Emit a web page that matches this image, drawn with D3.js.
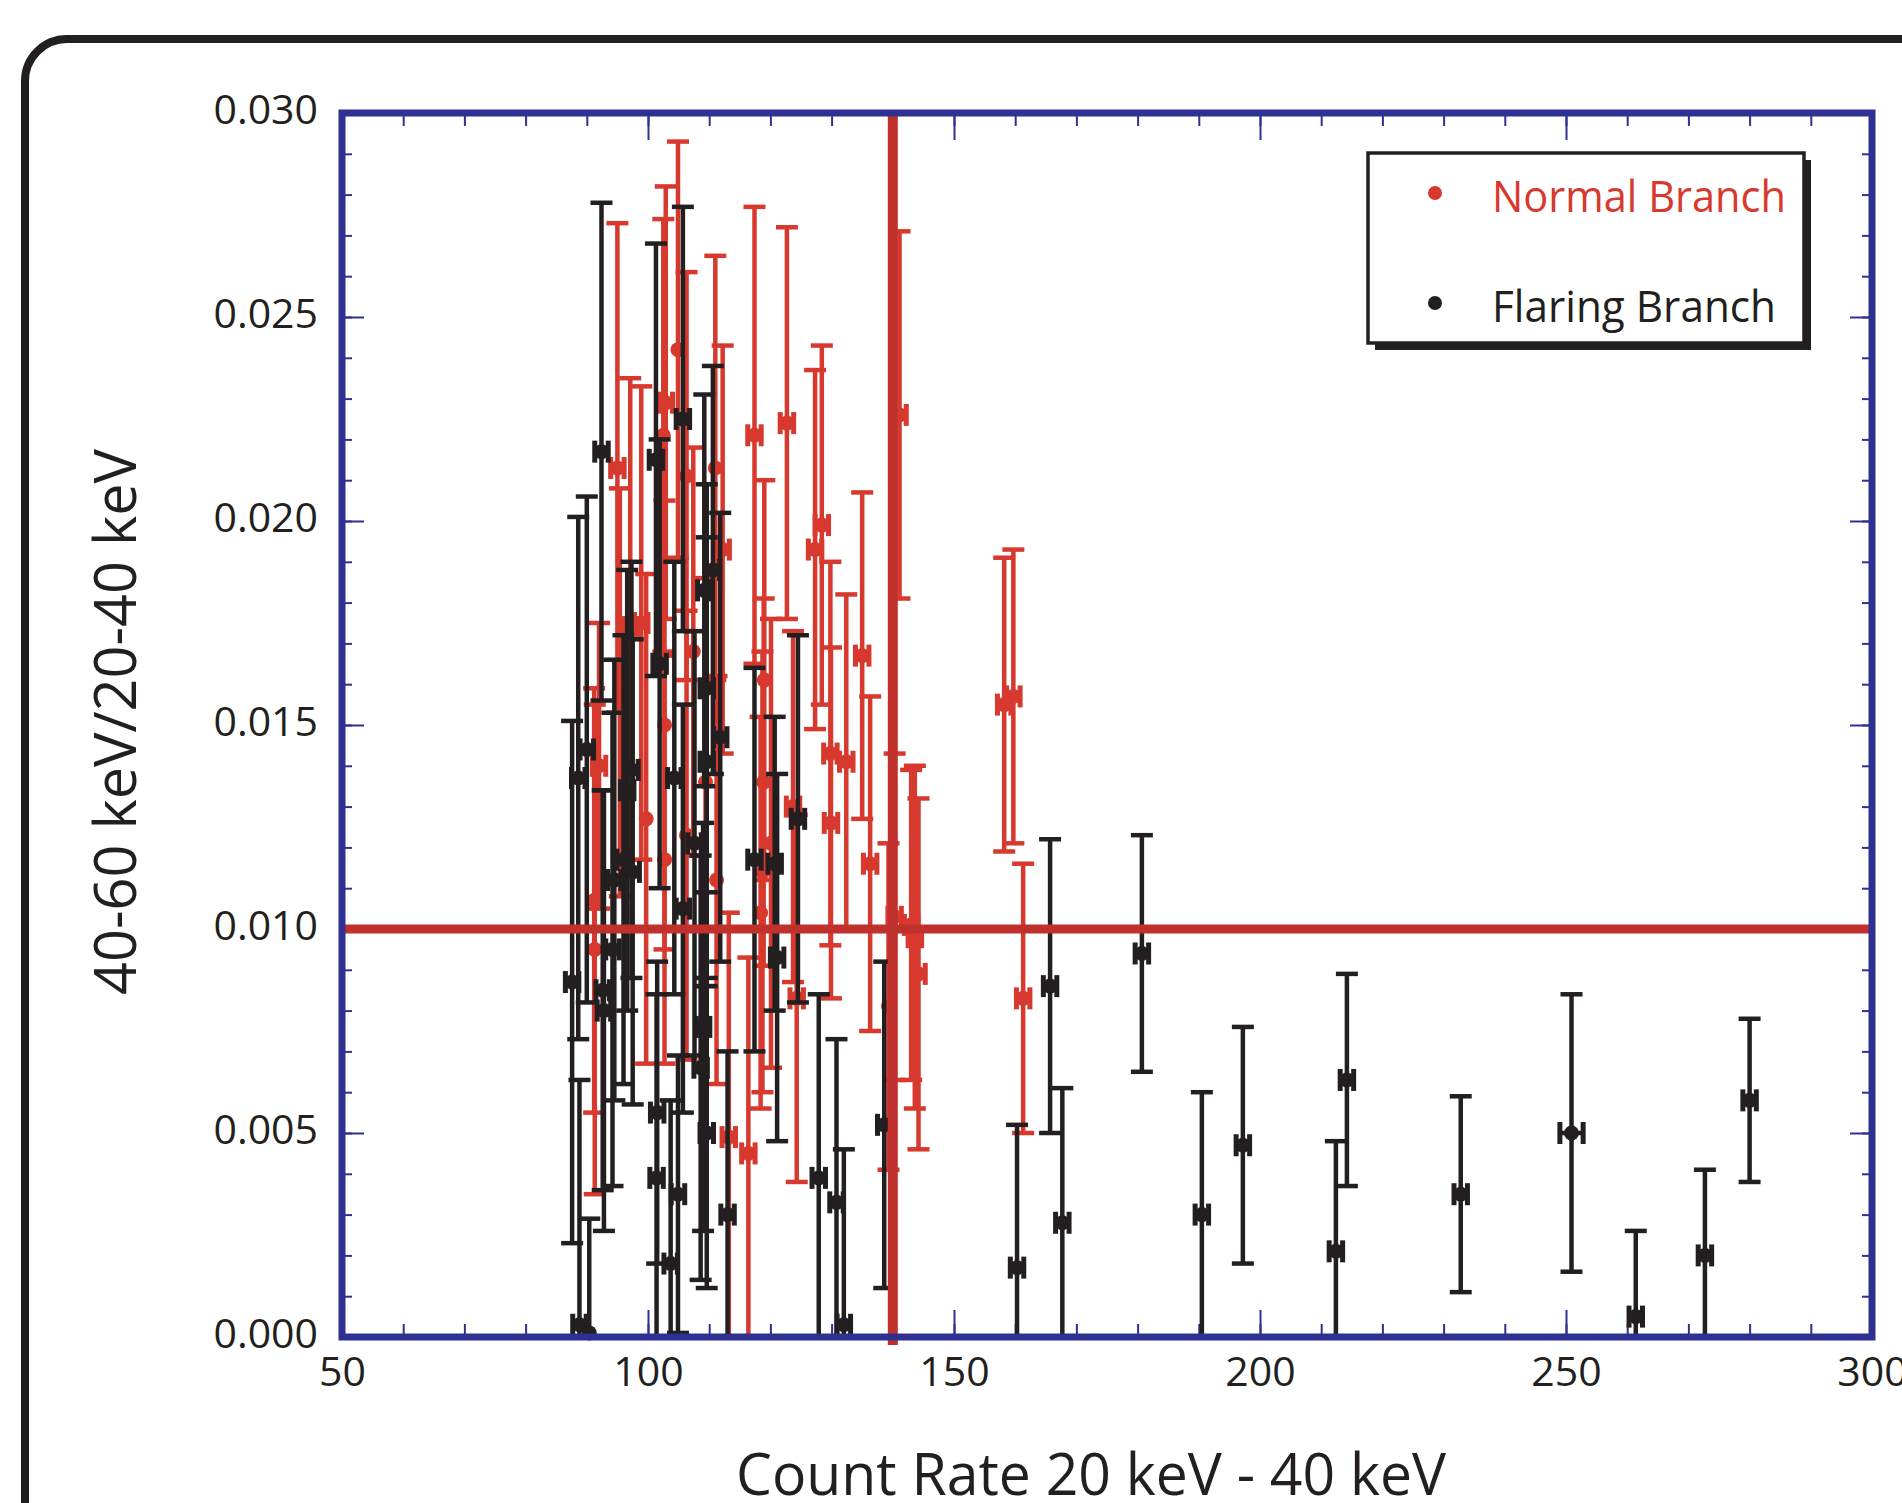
<!DOCTYPE html>
<html>
<head>
<meta charset="utf-8">
<title>40-60 keV / 20-40 keV vs count rate</title>
<script src="https://d3js.org/d3.v7.min.js"></script>
<style>
  body { margin: 0; background: #fff; }
  text { font-family: "Open Sans", "Noto Sans", sans-serif; }
</style>
</head>
<body>
<svg width="1902" height="1503"></svg>
<script>
// Normal Branch (red)
const normalX    = [91.2, 91.3, 92.0, 95.0, 95.4, 97.1, 98.9, 99.7, 102.9, 102.5, 102.7, 102.7, 104.9, 106.3, 106.3, 107.4,
                    109.4, 111.0, 111.2, 112.2, 113.2, 116.4, 117.4, 119.0, 118.9, 118.7, 120.1, 118.4, 122.7, 123.7, 124.3,
                    127.3, 128.4, 129.8, 129.9, 132.4, 135.0, 136.3, 140.3, 139.3, 141.1, 143.0, 143.6, 144.2, 158.2, 159.7, 161.3];
const normalY    = [0.0107, 0.0095, 0.0140, 0.0213, 0.0158, 0.0174, 0.0175, 0.0127, 0.0229, 0.0221, 0.0150, 0.0117, 0.0242, 0.0123, 0.0211, 0.0168,
                    0.0136, 0.0213, 0.0112, 0.0193, 0.0049, 0.0045, 0.0221, 0.0161, 0.0136, 0.0114, 0.0121, 0.0104, 0.0224, 0.0130, 0.0083,
                    0.0193, 0.0199, 0.0143, 0.0126, 0.0141, 0.0167, 0.0116, 0.0103, 0.0081, 0.0226, 0.0101, 0.0098, 0.0089, 0.0155, 0.0157, 0.0083];
const normalYErr = [0.0052, 0.0060, 0.0035, 0.0060, 0.0050, 0.0061, 0.0058, 0.0060, 0.0053, 0.0053, 0.0055, 0.0050, 0.0051, 0.0055, 0.0050, 0.0050,
                    0.0050, 0.0052, 0.0050, 0.0050, 0.0055, 0.0048, 0.0056, 0.0049, 0.0045, 0.0054, 0.0055, 0.0048, 0.0048, 0.0043, 0.0045,
                    0.0044, 0.0044, 0.0047, 0.0043, 0.0041, 0.0040, 0.0041, 0.0040, 0.0040, 0.0045, 0.0038, 0.0042, 0.0043, 0.0036, 0.0036, 0.0033];
const normalXErr = [0, 0, 1.1, 1.1, 0, 1.1, 1.1, 0, 1.1, 0, 0, 0, 0, 0, 0, 0,
                    0, 0, 0, 1.1, 1.1, 1.1, 1.1, 0, 0, 0, 0, 0, 1.1, 1.1, 1.1,
                    1.1, 1.1, 1.1, 1.1, 1.1, 1.1, 1.1, 1.1, 0, 1.1, 1.1, 1.1, 1.1, 1.1, 1.1, 1.1];

// Flaring Branch (black)
const flaringX    = [87.6, 88.6, 88.8, 90.0, 90.4, 92.4, 92.6, 92.8, 94.2, 94.5, 96.0, 96.6, 97.3, 97.5, 101.3, 101.9, 101.5, 101.4,
                     103.7, 104.3, 104.9, 105.7, 105.7, 107.6, 108.6, 109.0, 109.2, 109.6, 109.6, 109.6, 110.6, 111.8, 113.0,
                     117.4, 120.7, 121.1, 124.5, 127.9, 130.8, 132.0, 138.6,
                     160.3, 165.7, 167.7, 180.7, 190.5, 197.2, 212.4, 214.2, 232.8, 250.9, 261.4, 272.7, 280.0];
const flaringY    = [0.0087, 0.0137, 0.0003, 0.0144, 0.0001, 0.0217, 0.0085, 0.0080, 0.0095, 0.0112, 0.0117, 0.0134, 0.0139, 0.0114, 0.0215, 0.0165, 0.0055, 0.0039,
                     0.0018, 0.0137, 0.0035, 0.0225, 0.0105, 0.0121, 0.0066, 0.0076, 0.0183, 0.0050, 0.0159, 0.0141, 0.0188, 0.0147, 0.0030,
                     0.0117, 0.0116, 0.0093, 0.0127, 0.0039, 0.0033, 0.0003, 0.0052,
                     0.0017, 0.0086, 0.0028, 0.0094, 0.0030, 0.0047, 0.0021, 0.0063, 0.0035, 0.0050, 0.0005, 0.0020, 0.0058];
const flaringYErr = [0.0064, 0.0064, 0.0060, 0.0062, 0.0028, 0.0061, 0.0049, 0.0054, 0.0058, 0.0054, 0.0055, 0.0054, 0.0051, 0.0057, 0.0053, 0.0055, 0.0037, 0.0045,
                     0.0040, 0.0053, 0.0034, 0.0052, 0.0050, 0.0052, 0.0052, 0.0050, 0.0048, 0.0038, 0.0050, 0.0055, 0.0050, 0.0055, 0.0040,
                     0.0047, 0.0036, 0.0045, 0.0045, 0.0045, 0.0040, 0.0043, 0.0040,
                     0.0035, 0.0036, 0.0033, 0.0029, 0.0030, 0.0029, 0.0027, 0.0026, 0.0024, 0.0034, 0.0021, 0.0021, 0.0020];
const flaringXErr = [1.1, 1.1, 1.1, 1.1, 0, 1.1, 1.1, 1.1, 1.1, 1.1, 1.1, 1.1, 1.1, 1.1, 1.1, 1.1, 1.1, 1.1,
                     1.1, 1.1, 1.1, 1.1, 1.1, 1.1, 1.1, 1.1, 1.1, 1.1, 1.1, 1.1, 1.1, 1.1, 1.1,
                     1.1, 1.1, 1.1, 1.1, 1.1, 1.1, 1.1, 1.1,
                     1.1, 1.1, 1.1, 1.1, 1.1, 1.1, 1.1, 1.1, 1.1, 1.9, 1.1, 1.1, 1.1];

// axes and reference lines
const xDomain = [50, 300];
const yDomain = [0, 0.030];
const xMajorTicks = [50, 100, 150, 200, 250, 300];
const yMajorTicks = [0, 0.005, 0.010, 0.015, 0.020, 0.025, 0.030];
const refX = 140;
const refY = 0.010;

const seriesNames = ["Normal Branch", "Flaring Branch"];

const blue = "#2e3192", red = "#d8392e", darkRed = "#c0302d", black = "#231f20";

const svg = d3.select("svg");

// outer rounded frame (runs off the right and bottom edges)
svg.append("rect")
    .attr("x", 25).attr("y", 39)
    .attr("width", 1960).attr("height", 1600)
    .attr("rx", 42)
    .attr("fill", "none")
    .attr("stroke", black)
    .attr("stroke-width", 8);

const x = d3.scaleLinear().domain(xDomain).range([342, 1872]);
const y = d3.scaleLinear().domain(yDomain).range([1337, 113]);

const xMinor = d3.range(50, 301, 10);
const yMinor = d3.range(0, 31).map(function(i) { return i / 1000; });

function tickAxis(axis, values, size, label) {
  return axis.tickValues(values).tickSize(-size).tickPadding(label ? 20 : 0)
      .tickFormat(label || (function() { return ""; }));
}

function addAxis(axis, tr) {
  const g = svg.append("g").attr("transform", tr).call(axis);
  g.select(".domain").remove();
  g.selectAll("line").attr("stroke", blue).attr("stroke-width", 2);
  g.selectAll("text").attr("fill", black).attr("font-size", 41);
  return g;
}

// minor ticks
addAxis(tickAxis(d3.axisBottom(x), xMinor, 13), "translate(0,1337)");
addAxis(tickAxis(d3.axisTop(x), xMinor, 13), "translate(0,113)");
addAxis(tickAxis(d3.axisLeft(y), yMinor, 10), "translate(342,0)");
addAxis(tickAxis(d3.axisRight(y), yMinor, 10), "translate(1872,0)");
// major ticks with labels
addAxis(tickAxis(d3.axisBottom(x), xMajorTicks, 27, d3.format("d")), "translate(0,1337)");
addAxis(tickAxis(d3.axisTop(x), xMajorTicks, 27), "translate(0,113)");
const yl = addAxis(tickAxis(d3.axisLeft(y), yMajorTicks, 22, d3.format(".3f")).tickPadding(24), "translate(342,0)");
yl.selectAll("text").attr("dy", "0.25em");
addAxis(tickAxis(d3.axisRight(y), yMajorTicks, 22), "translate(1872,0)");

// error bar series
function drawSeries(xs, ys, ye, xe, color) {
  const pts = xs.map(function(v, i) { return {x: v, y: ys[i], e: ye[i], xe: xe[i]}; });
  const g = svg.append("g");
  const lo = function(d) { return Math.max(yDomain[0], d.y - d.e); };
  const hi = function(d) { return Math.min(yDomain[1], d.y + d.e); };
  const cap = 11;

  g.selectAll(".vbar").data(pts).join("line")
      .attr("x1", function(d) { return x(d.x); }).attr("x2", function(d) { return x(d.x); })
      .attr("y1", function(d) { return y(lo(d)); }).attr("y2", function(d) { return y(hi(d)); })
      .attr("stroke", color).attr("stroke-width", 4.5);

  g.selectAll(".tcap").data(pts.filter(function(d) { return d.y + d.e <= yDomain[1]; })).join("line")
      .attr("x1", function(d) { return x(d.x) - cap; }).attr("x2", function(d) { return x(d.x) + cap; })
      .attr("y1", function(d) { return y(d.y + d.e); }).attr("y2", function(d) { return y(d.y + d.e); })
      .attr("stroke", color).attr("stroke-width", 4.5);

  g.selectAll(".bcap").data(pts.filter(function(d) { return d.y - d.e >= yDomain[0]; })).join("line")
      .attr("x1", function(d) { return x(d.x) - cap; }).attr("x2", function(d) { return x(d.x) + cap; })
      .attr("y1", function(d) { return y(d.y - d.e); }).attr("y2", function(d) { return y(d.y - d.e); })
      .attr("stroke", color).attr("stroke-width", 4.5);

  const xb = pts.filter(function(d) { return d.xe > 0; });
  g.selectAll(".hbar").data(xb).join("line")
      .attr("x1", function(d) { return x(d.x - d.xe); }).attr("x2", function(d) { return x(d.x + d.xe); })
      .attr("y1", function(d) { return y(d.y); }).attr("y2", function(d) { return y(d.y); })
      .attr("stroke", color).attr("stroke-width", 4.5);
  g.selectAll(".lcap").data(xb).join("line")
      .attr("x1", function(d) { return x(d.x - d.xe); }).attr("x2", function(d) { return x(d.x - d.xe); })
      .attr("y1", function(d) { return y(d.y) - cap; }).attr("y2", function(d) { return y(d.y) + cap; })
      .attr("stroke", color).attr("stroke-width", 5);
  g.selectAll(".rcap").data(xb).join("line")
      .attr("x1", function(d) { return x(d.x + d.xe); }).attr("x2", function(d) { return x(d.x + d.xe); })
      .attr("y1", function(d) { return y(d.y) - cap; }).attr("y2", function(d) { return y(d.y) + cap; })
      .attr("stroke", color).attr("stroke-width", 5);

  g.selectAll("circle").data(pts).join("circle")
      .attr("cx", function(d) { return x(d.x); })
      .attr("cy", function(d) { return y(d.y); })
      .attr("r", 7.5)
      .attr("fill", color);
}

drawSeries(normalX, normalY, normalYErr, normalXErr, red);
drawSeries(flaringX, flaringY, flaringYErr, flaringXErr, black);

// reference lines
svg.append("line")
    .attr("x1", x(xDomain[0])).attr("x2", x(xDomain[1]))
    .attr("y1", y(refY)).attr("y2", y(refY))
    .attr("stroke", darkRed).attr("stroke-width", 9);
svg.append("line")
    .attr("x1", x(refX)).attr("x2", x(refX))
    .attr("y1", y(yDomain[1])).attr("y2", y(yDomain[0]) + 8)
    .attr("stroke", darkRed).attr("stroke-width", 10);

// plot frame
svg.append("rect")
    .attr("x", x(xDomain[0])).attr("y", y(yDomain[1]))
    .attr("width", x(xDomain[1]) - x(xDomain[0]))
    .attr("height", y(yDomain[0]) - y(yDomain[1]))
    .attr("fill", "none")
    .attr("stroke", blue)
    .attr("stroke-width", 7);

// axis titles
svg.append("text")
    .attr("x", 1091).attr("y", 1495)
    .attr("text-anchor", "middle")
    .attr("font-size", 58)
    .attr("textLength", 710)
    .attr("lengthAdjust", "spacingAndGlyphs")
    .attr("fill", black)
    .text("Count Rate 20 keV - 40 keV");

svg.append("text")
    .attr("transform", "translate(136,722) rotate(-90)")
    .attr("text-anchor", "middle")
    .attr("font-size", 58)
    .attr("textLength", 546)
    .attr("lengthAdjust", "spacingAndGlyphs")
    .attr("fill", black)
    .text("40-60 keV/20-40 keV");

// legend
const lg = svg.append("g");
lg.append("rect").attr("x", 1375).attr("y", 160).attr("width", 436).attr("height", 190).attr("fill", black);
lg.append("rect").attr("x", 1368).attr("y", 153).attr("width", 436).attr("height", 190)
    .attr("fill", "#fff").attr("stroke", black).attr("stroke-width", 3.5);
const legendColors = [red, black];
const legendLen = [294, 284];
seriesNames.forEach(function(name, i) {
  const cy = 193 + i * 110;
  lg.append("circle").attr("cx", 1435).attr("cy", cy).attr("r", 7).attr("fill", legendColors[i]);
  lg.append("text")
      .attr("x", 1492).attr("y", cy + 19)
      .attr("font-size", 44)
      .attr("textLength", legendLen[i])
      .attr("lengthAdjust", "spacingAndGlyphs")
      .attr("fill", legendColors[i])
      .text(name);
});
</script>
</body>
</html>
